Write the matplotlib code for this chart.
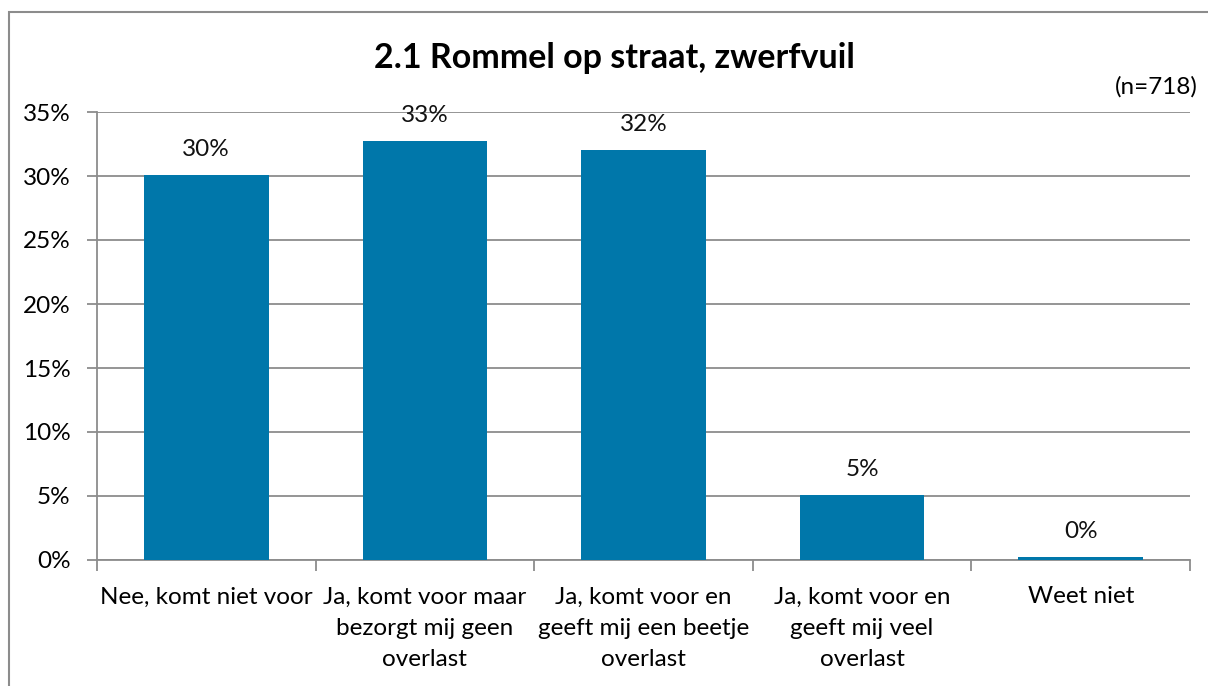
import matplotlib
matplotlib.use("Agg")
import matplotlib.pyplot as plt
from matplotlib.patches import Rectangle

categories = ["Nee, komt niet voor",
              "Ja, komt voor maar\nbezorgt mij geen\noverlast",
              "Ja, komt voor en\ngeeft mij een beetje\noverlast",
              "Ja, komt voor en\ngeeft mij veel\noverlast",
              "Weet niet"]
values = [30.1, 32.7, 32.0, 5.1, 0.2]
labels = ["30%", "33%", "32%", "5%", "0%"]
yticks = [0, 5, 10, 15, 20, 25, 30, 35]
title = "2.1 Rommel op straat, zwerfvuil"
note = "(n=718)"

plt.rcParams['font.family'] = ['Lato', 'DejaVu Sans']
FS = 17.5
W, H = 1208, 686
fig = plt.figure(figsize=(W/100, H/100), dpi=100)
fig.patches.append(Rectangle((9/W, -0.01), 1.1, (H-12)/H + 0.01, transform=fig.transFigure,
                             fill=False, edgecolor='#8c8c8c', linewidth=1.5))
ax = fig.add_axes([97/W, 1-560/H, (1190-97)/W, (560-112)/H])
x = list(range(len(categories)))
ax.bar(x, values, width=0.57, color='#0077AA', zorder=3)
for xi, v, l in zip(x, values, labels):
    ax.text(xi, v + 2.0, l, ha='center', va='center', fontsize=FS, color='#111111')
ax.set_xlim(-0.5, len(categories)-0.5)
ax.set_ylim(0, 35)
ax.set_yticks(yticks)
ax.set_yticklabels([f"{t}%" for t in yticks], fontsize=FS)
ax.yaxis.grid(True, color='#8c8c8c', linewidth=1.3, zorder=0)
ax.set_xticks([i - 0.5 for i in range(len(categories)+1)], minor=False)
ax.set_xticklabels([])
ax.set_xticks(x, minor=True)
ax.set_xticklabels(categories, minor=True, fontsize=FS, linespacing=1.62)
ax.tick_params(axis='x', which='minor', length=0, pad=19)
ax.tick_params(axis='x', which='major', length=8, color='#8c8c8c', width=1.3)
ax.tick_params(axis='y', length=7, color='#8c8c8c', width=1.3, pad=12)
for s in ['top', 'right']:
    ax.spines[s].set_visible(False)
for s in ['left', 'bottom']:
    ax.spines[s].set_color('#8c8c8c')
    ax.spines[s].set_linewidth(1.3)
fig.text(614/W, 1-58/H, title, ha='center', va='center', fontsize=24.5, fontweight='bold')
fig.text(1198/W, 1-87/H, note, ha='right', va='center', fontsize=FS)
fig.savefig("out.png", dpi=100)
